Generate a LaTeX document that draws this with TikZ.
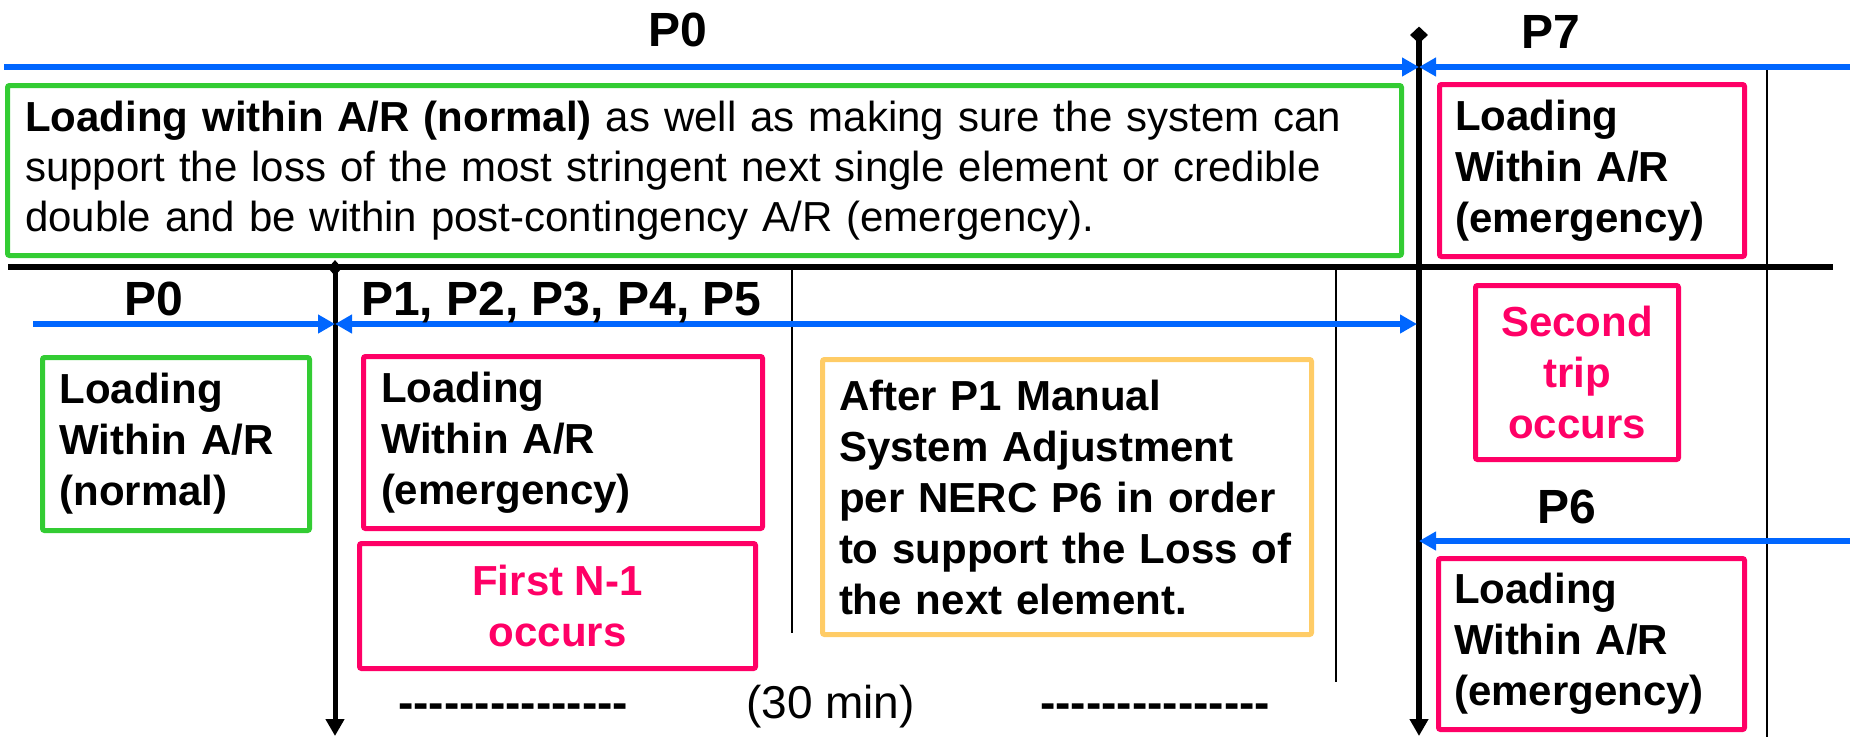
\documentclass[tikz,border=0pt]{standalone}
\usepackage{fontspec}
\setmainfont{Liberation Sans}
\usetikzlibrary{arrows.meta,shapes.geometric}
\definecolor{cblue}{RGB}{0,102,255}
\definecolor{cgreen}{RGB}{51,204,51}
\definecolor{cpink}{RGB}{255,0,102}
\definecolor{cyel}{RGB}{255,204,102}
\newcommand\hyrow{-{}-{}-{}-{}-{}-{}-{}-{}-{}-{}-{}-{}-{}-{}-}
\begin{document}
\begin{tikzpicture}[x=1pt,y=-1pt,
  box/.style={draw, line width=5pt, rounded corners=2pt, inner ysep=0pt, anchor=center},
  boldtxt/.style={font=\fontsize{42}{51}\selectfont\bfseries},
  plab/.style={font=\fontsize{48}{56}\selectfont\bfseries, anchor=base west, inner sep=0pt},
  dashlab/.style={font=\fontsize{46}{55}\selectfont\bfseries, anchor=base west, inner sep=0pt},
  reglab/.style={font=\fontsize{46}{55}\selectfont, anchor=base west, inner sep=0pt},
  tipA/.tip={Triangle[length=17pt,width=18pt]},
  bluearrow/.style={draw=cblue, line width=6pt, -tipA},
  blueboth/.style={draw=cblue, line width=6pt, tipA-tipA},
  thickline/.style={draw=black, line width=6pt},
  thinline/.style={draw=black, line width=2.5pt},
  marker/.style={diamond, shape aspect=1, fill=black, inner sep=0pt}
]
\useasboundingbox (0,0) rectangle (1850,737);

% ---------- lines ----------
\coordinate (hl) at (8,267);
\coordinate (hr) at (1833,267);
\draw[thickline] (hl) -- (hr);

\node[marker, minimum width=18pt, minimum height=17pt] (dtop) at (1419,35) {};
\coordinate (vbot) at (1419,736);
\draw[thickline, -tipA] (dtop.center) -- (vbot);

\node[marker, minimum width=14pt, minimum height=16pt] (dlow) at (335,268) {};
\coordinate (lbot) at (335,736);
\draw[draw=black, line width=5pt, -tipA] (dlow.center) -- (lbot);

\coordinate (t1a) at (1767,70);  \coordinate (t1b) at (1767,737);
\coordinate (t2a) at (792,269);  \coordinate (t2b) at (792,633);
\coordinate (t3a) at (1336,270); \coordinate (t3b) at (1336,682);
\draw[thinline] (t1a) -- (t1b);
\draw[thinline] (t2a) -- (t2b);
\draw[thinline] (t3a) -- (t3b);

\coordinate (bl1) at (4,67);
\coordinate (bx1) at (1419,67);
\coordinate (br1) at (1850,67);
\draw[bluearrow] (bl1) -- (bx1);
\draw[bluearrow] (br1) -- (bx1);

\coordinate (bl2) at (33,324);
\coordinate (bm2) at (335,324);
\coordinate (br2) at (1417,324);
\draw[bluearrow] (bl2) -- (bm2);
\draw[blueboth] (bm2) -- (br2);

\coordinate (br3) at (1850,541);
\coordinate (bx3) at (1419,541);
\draw[bluearrow] (br3) -- (bx3);

% ---------- labels ----------
\node[plab] (p0top) at (648,46) {P0};
\node[plab] (p7) at (1521,48) {P7};
\node[plab] (p0low) at (124,315) {P0};
\node[plab] (p15) at (361,315) {P1, P2, P3, P4, P5};
\node[plab] (p6) at (1537,523) {P6};
\node[reglab] (min30) at (746,718) {(30 min)};
\node[dashlab] (dash1) at (398,718) {\hyrow};
\node[dashlab] (dash2) at (1040,718) {\hyrow};

% ---------- boxes ----------
\node[box, draw=cgreen, minimum width=1394pt, minimum height=170pt,
      text width=1359pt, inner xsep=17.5pt, align=left,
      font=\fontsize{42}{50}\selectfont] (gtop) at (704.5,170.5)
  {\textbf{Loading within A/R (normal)} as well as making sure the system can\\
   support the loss of the most stringent next single element or credible\\
   double and be within post-contingency A/R (emergency).};

\node[box, boldtxt, draw=cgreen, minimum width=267pt, minimum height=173pt,
      text width=233pt, inner xsep=17pt, align=left] (gleft) at (176,444)
  {Loading\\Within A/R\\(normal)};

\node[box, boldtxt, draw=cpink, minimum width=399pt, minimum height=172pt,
      text width=364pt, inner xsep=17.5pt, align=left] (pk1) at (563,442.5)
  {Loading\\Within A/R\\(emergency)};

\node[box, boldtxt, draw=cpink, text=cpink, minimum width=396pt, minimum height=125pt,
      inner xsep=0pt, align=center] (first) at (557.5,606)
  {First N-1\\occurs};

\node[box, boldtxt, draw=cyel, minimum width=489pt, minimum height=275pt,
      text width=456pt, inner xsep=16.5pt, align=left] (yel) at (1067,497)
  {After P1 Manual\\System Adjustment\\per NERC P6 in order\\to support the Loss of\\the next element.};

\node[box, boldtxt, draw=cpink, minimum width=305pt, minimum height=172pt,
      text width=274pt, inner xsep=15.5pt, align=left] (pk7) at (1592,170.5)
  {Loading\\Within A/R\\(emergency)};

\node[box, boldtxt, draw=cpink, text=cpink, minimum width=203pt, minimum height=174pt,
      inner xsep=0pt, align=center] (second) at (1577,372.5)
  {Second\\trip\\occurs};

\node[box, boldtxt, draw=cpink, minimum width=306pt, minimum height=171pt,
      text width=275pt, inner xsep=15.5pt, align=left] (pk6) at (1591.5,644)
  {Loading\\Within A/R\\(emergency)};
\end{tikzpicture}
\end{document}
